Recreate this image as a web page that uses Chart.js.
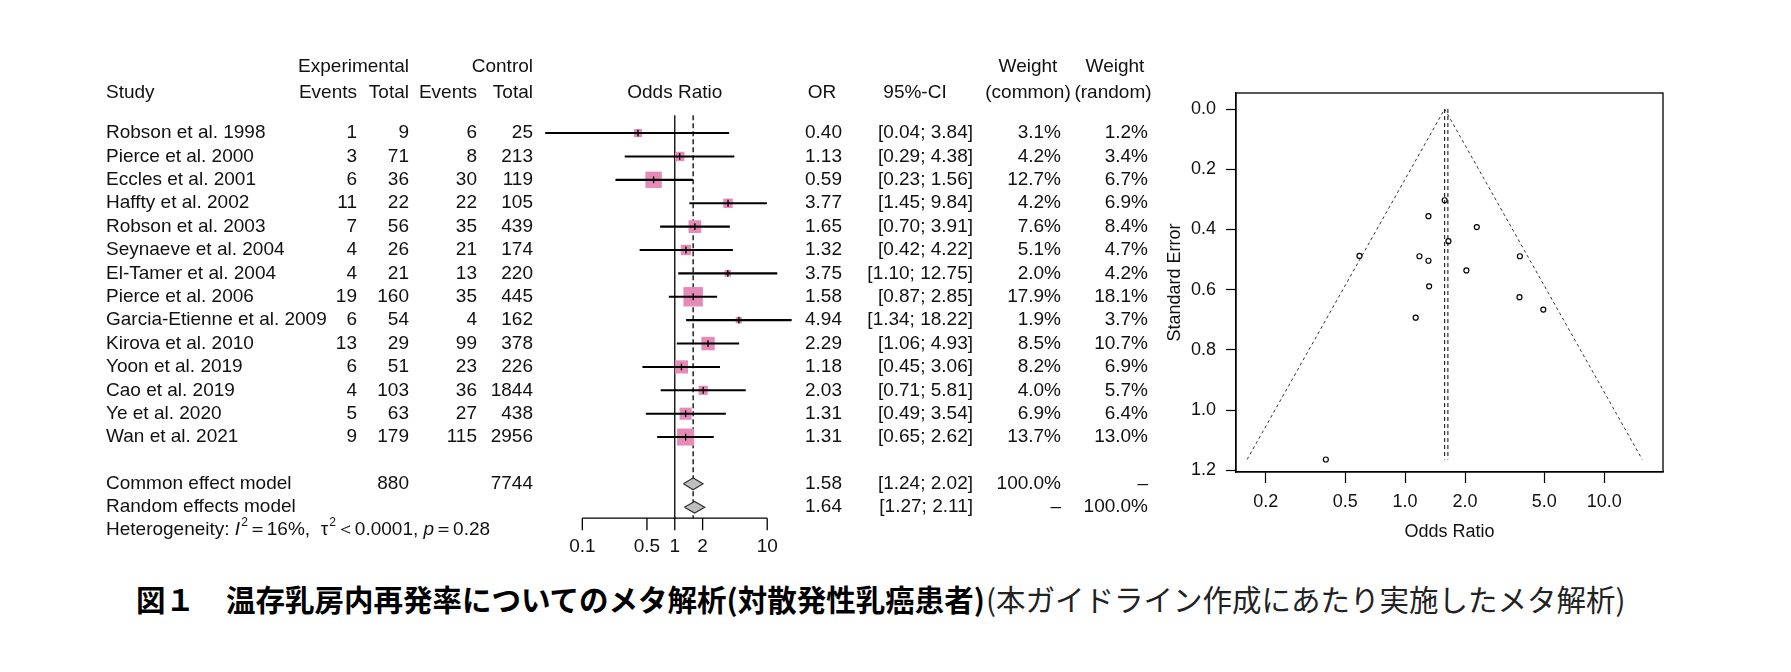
<!DOCTYPE html>
<html>
<head>
<meta charset="utf-8">
<script src="https://cdn.jsdelivr.net/npm/chart.js@4.4.1/dist/chart.umd.min.js"></script>
<style>
  body { margin: 0; background: #fff; width: 1791px; height: 672px; position: relative; overflow: hidden; }
  #forest { position: absolute; left: 0; top: 0; }
  #funnel { position: absolute; left: 1160px; top: 0; }
  .cap { position: absolute; top: 583px; font-size: 29.5px; line-height: 30px; white-space: nowrap;
         font-family: "Noto Sans CJK JP", sans-serif; color: #000; }
</style>
</head>
<body>
<canvas id="forest" width="1160" height="560"></canvas>
<canvas id="funnel" width="631" height="560"></canvas>
<div class="cap" style="left:136px;font-weight:700">図１</div>
<div class="cap" style="left:226px;font-weight:700">温存乳房内再発率についてのメタ解析(対散発性乳癌患者)</div>
<div class="cap" style="left:986px;font-weight:400;color:#222">(本ガイドライン作成にあたり実施したメタ解析)</div>
<script>
// ── data ──
const studies = ['Robson et al. 1998', 'Pierce et al. 2000', 'Eccles et al. 2001', 'Haffty et al. 2002',
  'Robson et al. 2003', 'Seynaeve et al. 2004', 'El-Tamer et al. 2004', 'Pierce et al. 2006',
  'Garcia-Etienne et al. 2009', 'Kirova et al. 2010', 'Yoon et al. 2019', 'Cao et al. 2019',
  'Ye et al. 2020', 'Wan et al. 2021'];
const expEvents  = [1, 3, 6, 11, 7, 4, 4, 19, 6, 13, 6, 4, 5, 9];
const expTotal   = [9, 71, 36, 22, 56, 26, 21, 160, 54, 29, 51, 103, 63, 179];
const ctrlEvents = [6, 8, 30, 22, 35, 21, 13, 35, 4, 99, 23, 36, 27, 115];
const ctrlTotal  = [25, 213, 119, 105, 439, 174, 220, 445, 162, 378, 226, 1844, 438, 2956];
const orValues   = [0.40, 1.13, 0.59, 3.77, 1.65, 1.32, 3.75, 1.58, 4.94, 2.29, 1.18, 2.03, 1.31, 1.31];
const ciLower    = [0.04, 0.29, 0.23, 1.45, 0.70, 0.42, 1.10, 0.87, 1.34, 1.06, 0.45, 0.71, 0.49, 0.65];
const ciUpper    = [3.84, 4.38, 1.56, 9.84, 3.91, 4.22, 12.75, 2.85, 18.22, 4.93, 3.06, 5.81, 3.54, 2.62];
const weightCommon = [3.1, 4.2, 12.7, 4.2, 7.6, 5.1, 2.0, 17.9, 1.9, 8.5, 8.2, 4.0, 6.9, 13.7];
const weightRandom = [1.2, 3.4, 6.7, 6.9, 8.4, 4.7, 4.2, 18.1, 3.7, 10.7, 6.9, 5.7, 6.4, 13.0];

const modelNames = ['Common effect model', 'Random effects model'];
const modelOR    = [1.58, 1.64];
const modelLower = [1.24, 1.27];
const modelUpper = [2.02, 2.11];
const modelWeightCommon = ['100.0%', '–'];
const modelWeightRandom = ['–', '100.0%'];
const totalExp = 880, totalCtrl = 7744;
const hetI2 = '16%', hetTau2 = '0.0001', hetP = '0.28';

const forestTicks = [0.1, 0.5, 1, 2, 10];

// funnel: standard errors
const funnelSE = [1.164, 0.693, 0.488, 0.489, 0.439, 0.589, 0.625, 0.303, 0.666, 0.392, 0.489, 0.536, 0.504, 0.356];
const funnelEdge = [0.161, 15.5];   // pseudo 95% limits at max SE
const funnelSEMax = 1.164;
const funnelXTicks = [0.2, 0.5, 1, 2, 5, 10];
const funnelYTicks = [0, 0.2, 0.4, 0.6, 0.8, 1.0, 1.2];

// ── layout / style ──
const FONT   = '19px "Liberation Sans", Arial, sans-serif';
const ITALIC = 'italic 19px "Liberation Sans", Arial, sans-serif';
const SMALL  = '12px "Liberation Sans", Arial, sans-serif';
const PINK = '#E68AB8';
const modelRows = [15, 16];
const HEAD1 = -2.83, HEAD2 = -1.72, LINE_TOP = -0.76, AXIS_ROW = 16.47, HET_ROW = 16.98;
const col = { study: 106, expEv: 357, expTot: 409, ctrlEv: 477, ctrlTot: 533, or: 842, ci: 973, wc: 1061, wr: 1148 };

const forestText = {
  id: 'forestText',
  afterDraw(chart) {
    const { ctx, scales: { x, y } } = chart;
    const put = (t, px, r, align, font) => {
      ctx.font = font || FONT; ctx.textAlign = align; ctx.fillText(t, px, y.getPixelForValue(r));
    };
    ctx.save();
    ctx.fillStyle = '#111';
    ctx.textBaseline = 'middle';

    // headers
    put('Experimental', col.expTot, HEAD1, 'right');
    put('Control', col.ctrlTot, HEAD1, 'right');
    put('Weight', 1028, HEAD1, 'center');
    put('Weight', 1115, HEAD1, 'center');
    put('Study', col.study, HEAD2, 'left');
    put('Events', col.expEv, HEAD2, 'right');
    put('Total', col.expTot, HEAD2, 'right');
    put('Events', col.ctrlEv, HEAD2, 'right');
    put('Total', col.ctrlTot, HEAD2, 'right');
    put('Odds Ratio', x.getPixelForValue(1), HEAD2, 'center');
    put('OR', 822, HEAD2, 'center');
    put('95%-CI', 915, HEAD2, 'center');
    put('(common)', 1028, HEAD2, 'center');
    put('(random)', 1113, HEAD2, 'center');

    // study rows
    studies.forEach((s, i) => {
      put(s, col.study, i, 'left');
      put(String(expEvents[i]), col.expEv, i, 'right');
      put(String(expTotal[i]), col.expTot, i, 'right');
      put(String(ctrlEvents[i]), col.ctrlEv, i, 'right');
      put(String(ctrlTotal[i]), col.ctrlTot, i, 'right');
      put(orValues[i].toFixed(2), col.or, i, 'right');
      put('[' + ciLower[i].toFixed(2) + '; ' + ciUpper[i].toFixed(2) + ']', col.ci, i, 'right');
      put(weightCommon[i].toFixed(1) + '%', col.wc, i, 'right');
      put(weightRandom[i].toFixed(1) + '%', col.wr, i, 'right');
    });

    // pooled rows
    modelNames.forEach((m, k) => {
      const r = modelRows[k];
      put(m, col.study, r, 'left');
      put(modelOR[k].toFixed(2), col.or, r, 'right');
      put('[' + modelLower[k].toFixed(2) + '; ' + modelUpper[k].toFixed(2) + ']', col.ci, r, 'right');
      put(modelWeightCommon[k], col.wc, r, 'right');
      put(modelWeightRandom[k], col.wr, r, 'right');
    });
    put(String(totalExp), col.expTot, modelRows[0], 'right');
    put(String(totalCtrl), col.ctrlTot, modelRows[0], 'right');

    // heterogeneity line
    const pieces = [
      ['Heterogeneity: ', FONT, 0], ['I', ITALIC, 0], ['2', SMALL, -7],
      ['＝' + hetI2 + ',  ', FONT, 0], ['τ', FONT, 0], ['2', SMALL, -7],
      ['＜' + hetTau2 + ', ', FONT, 0], ['p', ITALIC, 0], ['＝' + hetP, FONT, 0]
    ];
    let hx = col.study;
    const hy = y.getPixelForValue(HET_ROW);
    ctx.textAlign = 'left';
    pieces.forEach(([t, f, dy]) => {
      ctx.font = f;
      ctx.fillText(t, hx, hy + dy);
      hx += ctx.measureText(t).width + (t === 'I' || t === 'τ' ? 1 : 0);
    });

    // odds ratio axis
    const ay = y.getPixelForValue(AXIS_ROW);
    ctx.strokeStyle = '#000';
    ctx.lineWidth = 1.3;
    ctx.beginPath();
    ctx.moveTo(x.getPixelForValue(forestTicks[0]), ay);
    ctx.lineTo(x.getPixelForValue(forestTicks[forestTicks.length - 1]), ay);
    forestTicks.forEach(t => {
      const px = x.getPixelForValue(t);
      ctx.moveTo(px, ay);
      ctx.lineTo(px, ay + 12);
    });
    ctx.stroke();
    ctx.font = FONT;
    ctx.textAlign = 'center';
    forestTicks.forEach(t => ctx.fillText(String(t), x.getPixelForValue(t), ay + 29));
    ctx.restore();
  }
};

function diamond(k) {
  const r = modelRows[k], h = 0.25;
  return [
    { x: modelLower[k], y: r }, { x: modelOR[k], y: r - h },
    { x: modelUpper[k], y: r }, { x: modelOR[k], y: r + h }, { x: modelLower[k], y: r }
  ];
}

new Chart(document.getElementById('forest'), {
  type: 'scatter',
  data: {
    datasets: [
      { // null effect line
        type: 'line', order: 5,
        data: [{ x: 1, y: LINE_TOP }, { x: 1, y: AXIS_ROW }],
        borderColor: '#000', borderWidth: 1.3, pointRadius: 0
      },
      { // pooled effect line
        type: 'line', order: 5,
        data: [{ x: modelOR[0], y: LINE_TOP }, { x: modelOR[0], y: AXIS_ROW }],
        borderColor: '#000', borderWidth: 1.3, borderDash: [5, 3], pointRadius: 0
      },
      { // weight squares
        order: 3,
        data: orValues.map((v, i) => ({ x: v, y: i })),
        pointStyle: 'rect',
        pointRadius: weightCommon.map(w => 4.6 * Math.sqrt(w) / Math.SQRT2),
        backgroundColor: PINK, borderWidth: 0
      },
      { // confidence intervals
        type: 'bar', indexAxis: 'y', order: 2,
        data: studies.map((s, i) => ({ x: [ciLower[i], ciUpper[i]], y: i })),
        backgroundColor: '#000', borderWidth: 0, barThickness: 1.4
      },
      { // point estimate ticks
        order: 1,
        data: orValues.map((v, i) => ({ x: v, y: i })),
        pointStyle: 'line', rotation: 90, pointRadius: 3.4,
        borderColor: '#000', borderWidth: 1.3
      },
      ...modelNames.map((m, k) => ({
        type: 'line', order: 0,
        data: diamond(k),
        fill: 'shape', tension: 0, pointRadius: 0,
        backgroundColor: '#BEBEBE', borderColor: '#333', borderWidth: 1.2
      }))
    ]
  },
  options: {
    responsive: false,
    maintainAspectRatio: false,
    animation: false,
    devicePixelRatio: 1,
    layout: { autoPadding: false, padding: { left: 534, right: 356, top: 98, bottom: 6 } },
    plugins: { legend: { display: false }, tooltip: { enabled: false }, title: { display: false } },
    scales: {
      x: { type: 'logarithmic', min: 0.03, max: 25, display: false, bounds: 'data', offset: false, beginAtZero: false },
      y: { type: 'linear', min: -1.5, max: 18, reverse: true, display: false, bounds: 'data', offset: false, grace: 0 }
    }
  },
  plugins: [forestText]
});

// ── funnel plot ──
const frameBox = {
  id: 'frameBox',
  afterDraw(chart) {
    const { ctx, chartArea: a } = chart;
    ctx.save();
    ctx.strokeStyle = '#000';
    ctx.lineWidth = 1.3;
    ctx.strokeRect(a.left, a.top, a.right - a.left, a.bottom - a.top);
    ctx.restore();
  }
};

const tickFont = { family: '"Liberation Sans", Arial, sans-serif', size: 18 };

new Chart(document.getElementById('funnel'), {
  type: 'scatter',
  data: {
    datasets: [
      {
        data: orValues.map((v, i) => ({ x: v, y: funnelSE[i] })),
        pointStyle: 'circle', pointRadius: 2.5,
        borderColor: '#000', borderWidth: 1.2, backgroundColor: 'rgba(0,0,0,0)'
      },
      {
        type: 'line',
        data: [{ x: funnelEdge[0], y: funnelSEMax }, { x: modelOR[0], y: 0 }, { x: funnelEdge[1], y: funnelSEMax }],
        borderColor: '#333', borderWidth: 1, borderDash: [3, 3], pointRadius: 0, tension: 0
      },
      ...modelOR.map(v => ({
        type: 'line',
        data: [{ x: v, y: 0 }, { x: v, y: funnelSEMax }],
        borderColor: '#000', borderWidth: 1, borderDash: [4, 3], pointRadius: 0
      }))
    ]
  },
  options: {
    responsive: false,
    animation: false,
    devicePixelRatio: 1,
    layout: { padding: { left: 0, right: 128, top: 93, bottom: 0 } },
    plugins: { legend: { display: false }, tooltip: { enabled: false } },
    scales: {
      x: {
        type: 'logarithmic', min: 0.1416, max: 19.71,
        afterBuildTicks: s => { s.ticks = funnelXTicks.map(v => ({ value: v })); },
        afterFit: s => { s.height = 88; },
        ticks: { autoSkip: false, maxRotation: 0, padding: 8, color: '#111', font: tickFont,
                 callback: v => Number(v).toFixed(1) },
        grid: { drawOnChartArea: false, tickLength: 11, color: '#000', tickWidth: 1.2 },
        border: { color: '#000', width: 1.3 },
        title: { display: true, text: 'Odds Ratio', color: '#111', font: tickFont, padding: { top: 4, bottom: 17 } }
      },
      y: {
        type: 'linear', min: -0.0532, max: 1.2056, reverse: true,
        afterBuildTicks: s => { s.ticks = funnelYTicks.map(v => ({ value: v })); },
        afterFit: s => { s.width = 76; },
        ticks: { autoSkip: false, padding: 10, color: '#111', font: tickFont,
                 callback: v => Number(v).toFixed(1) },
        grid: { drawOnChartArea: false, tickLength: 10, color: '#000', tickWidth: 1.2 },
        border: { color: '#000', width: 1.3 },
        title: { display: true, text: 'Standard Error', color: '#111', font: tickFont, padding: { top: 4, bottom: 4 } }
      }
    }
  },
  plugins: [frameBox]
});
</script>
</body>
</html>
